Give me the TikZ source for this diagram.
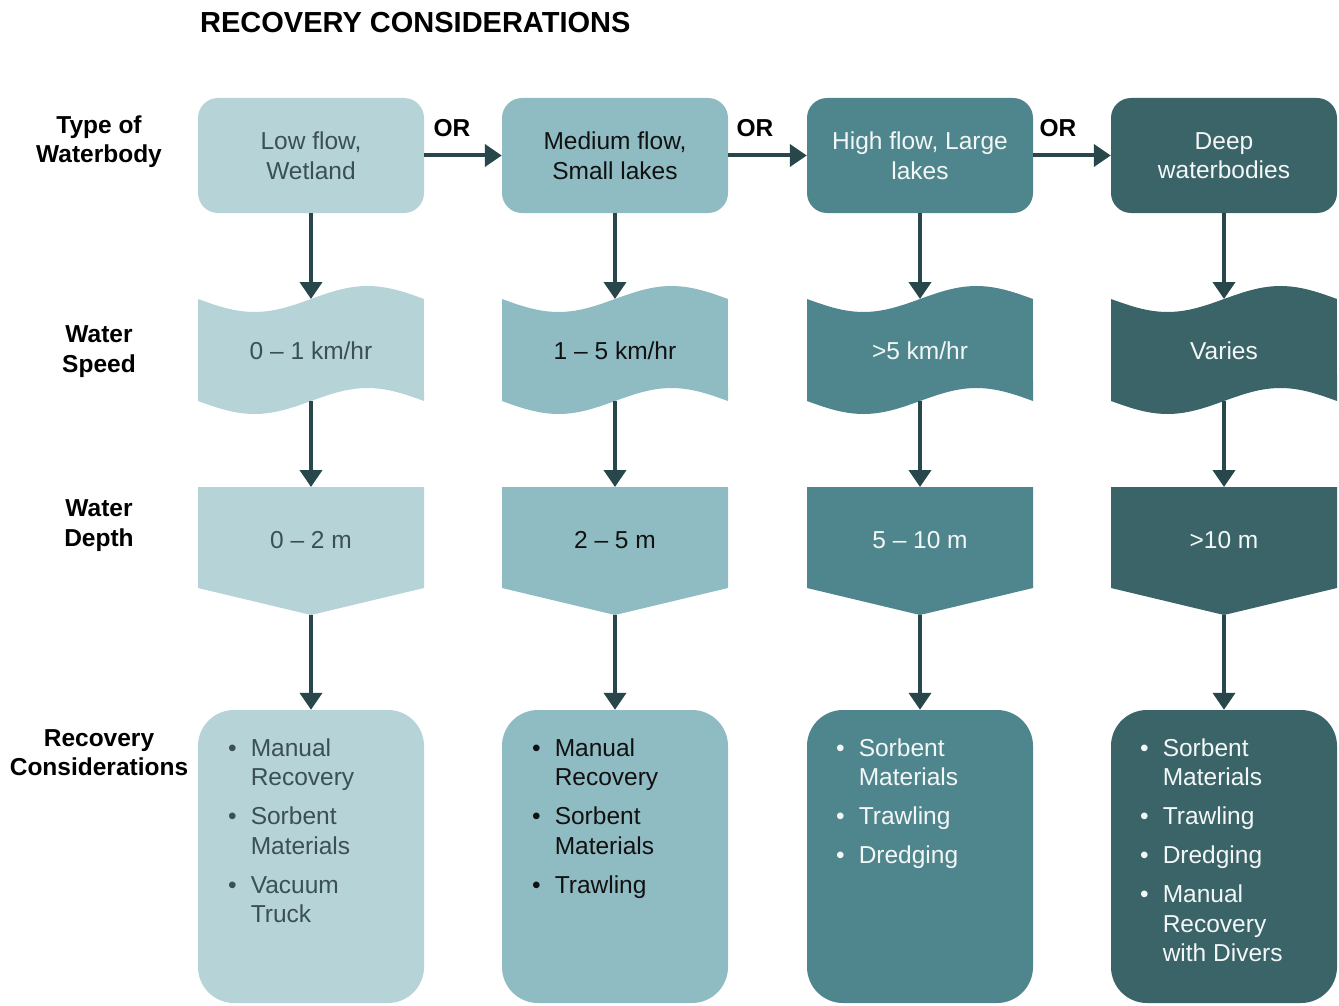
\documentclass[tikz,border=0pt]{standalone}
\usepackage{fontspec}
\setmainfont{Liberation Sans}
\usetikzlibrary{arrows.meta}

\definecolor{colA}{HTML}{B6D3D8}
\definecolor{colB}{HTML}{8FBBC2}
\definecolor{colC}{HTML}{4F868D}
\definecolor{colD}{HTML}{3A6468}
\definecolor{arrowc}{HTML}{28474B}
\definecolor{txtA}{HTML}{3A5054}
\definecolor{txtB}{HTML}{111111}
\definecolor{txtC}{HTML}{F4F7F7}

\begin{document}
\begin{tikzpicture}[x=1pt,y=-1pt,
  body/.style={font=\fontsize{24.5}{29.5}\selectfont, align=center, inner sep=0pt},
  headbox/.style={body, rounded corners=20pt, minimum width=226pt, minimum height=115pt},
  listbox/.style={rounded corners=36pt, minimum width=226pt, minimum height=293pt, inner sep=0pt},
  rowlabel/.style={font=\bfseries\fontsize{24.5}{29.5}\selectfont, align=center, inner sep=0pt},
  bullets/.style={font=\fontsize{24.5}{29.5}\selectfont, inner sep=0pt, anchor=base west},
  conn/.style={draw=arrowc, line width=4pt, -{Triangle[width=22pt,length=17pt]}},
  orlabel/.style={font=\bfseries\fontsize{24.5}{29.5}\selectfont, inner sep=0pt}
]
\useasboundingbox (0,0) rectangle (1339,1006);

% title
\node[font=\bfseries\fontsize{29}{34}\selectfont, anchor=base west, inner sep=0pt] (title) at (200,33) {RECOVERY CONSIDERATIONS};

% row labels
\node[rowlabel] (lab1) at (99,141.5) {Type of\\Waterbody};
\node[rowlabel] (lab2) at (99,351.5) {Water\\Speed};
\node[rowlabel] (lab3) at (99,525.5) {Water\\Depth};
\node[rowlabel] (lab4) at (99,752.5) {Recovery\\Considerations};

% the four columns
\foreach \i/\cx/\fc/\tc/\ta/\tb/\tcc in {
  1/311/colA/txtA/{Low flow,\\Wetland}/{0 – 1 km/hr}/{0 – 2 m},
  2/615/colB/txtB/{Medium flow,\\Small lakes}/{1 – 5 km/hr}/{2 – 5 m},
  3/920/colC/txtC/{High flow, Large\\lakes}/{>5 km/hr}/{5 – 10 m},
  4/1224/colD/txtC/{Deep\\waterbodies}/{Varies}/{>10 m}}{
  \pgfmathsetmacro\lx{\cx-113}
  % waterbody type
  \node[headbox, fill=\fc, text=\tc] (w\i) at (\cx,155.5) {\ta};
  % water speed: wavy banner
  \fill[\fc] plot[domain=0:1, samples=41, variable=\t] ({\lx+226*\t},{299+13*sin(360*\t)})
     -- plot[domain=1:0, samples=41, variable=\t] ({\lx+226*\t},{401+13*sin(360*\t)}) -- cycle;
  \coordinate (sin\i) at (\cx,299);
  \coordinate (sout\i) at (\cx,401);
  \node[body, text=\tc] (s\i) at (\cx,351) {\tb};
  % water depth: downward pentagon
  \fill[\fc] (\lx,487) -- (\lx+226,487) -- (\lx+226,588) -- (\cx,615) -- (\lx,588) -- cycle;
  \coordinate (din\i) at (\cx,487);
  \coordinate (dout\i) at (\cx,615);
  \node[body, text=\tc] (d\i) at (\cx,540) {\tcc};
  % recovery considerations
  \node[listbox, fill=\fc] (r\i) at (\cx,856.5) {};
  % vertical connectors
  \draw[conn] (w\i.south) -- (sin\i);
  \draw[conn] (sout\i) -- (din\i);
  \draw[conn] (dout\i) -- (r\i.north);
}

% horizontal connectors
\draw[conn] (w1.east) -- (w2.west);
\draw[conn] (w2.east) -- (w3.west);
\draw[conn] (w3.east) -- (w4.west);
\node[orlabel] (or1) at (452,128) {OR};
\node[orlabel] (or2) at (755,128) {OR};
\node[orlabel] (or3) at (1058,128) {OR};

% bullet lists
\node[bullets, text=txtA] (list1) at (228,756) {\begin{tabular}[t]{@{}l@{\hspace{14pt}}l@{}}
  • & Manual\\ & Recovery\\[9.5pt]
  • & Sorbent\\ & Materials\\[9.5pt]
  • & Vacuum\\ & Truck
\end{tabular}};
\node[bullets, text=txtB] (list2) at (532,756) {\begin{tabular}[t]{@{}l@{\hspace{14pt}}l@{}}
  • & Manual\\ & Recovery\\[9.5pt]
  • & Sorbent\\ & Materials\\[9.5pt]
  • & Trawling
\end{tabular}};
\node[bullets, text=txtC] (list3) at (836,756) {\begin{tabular}[t]{@{}l@{\hspace{14pt}}l@{}}
  • & Sorbent\\ & Materials\\[9.5pt]
  • & Trawling\\[9.5pt]
  • & Dredging
\end{tabular}};
\node[bullets, text=txtC] (list4) at (1140,756) {\begin{tabular}[t]{@{}l@{\hspace{14pt}}l@{}}
  • & Sorbent\\ & Materials\\[9.5pt]
  • & Trawling\\[9.5pt]
  • & Dredging\\[9.5pt]
  • & Manual\\ & Recovery\\ & with Divers
\end{tabular}};
\end{tikzpicture}
\end{document}
